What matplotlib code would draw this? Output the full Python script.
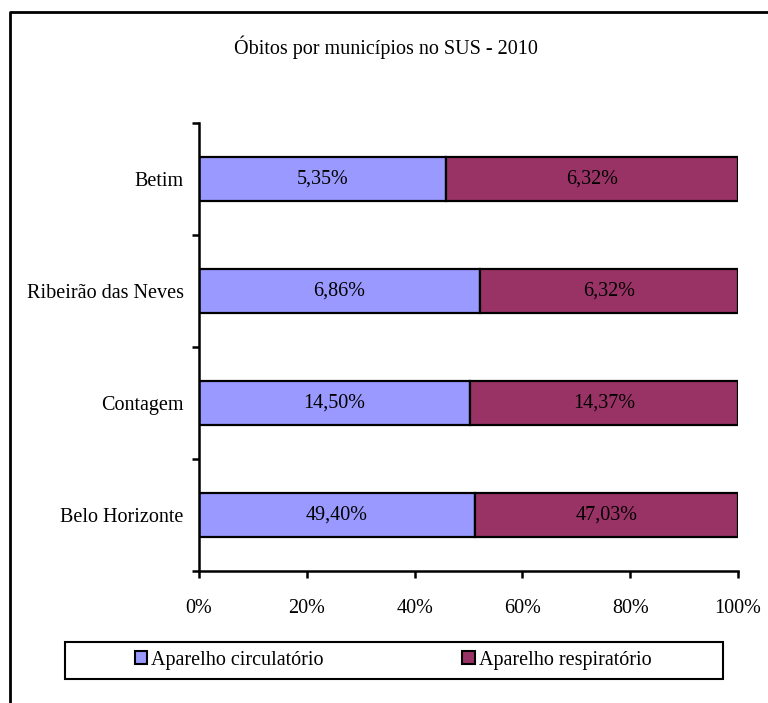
import matplotlib
matplotlib.use("Agg")
import matplotlib.pyplot as plt
from matplotlib.patches import Rectangle, Patch
from matplotlib.lines import Line2D
import numpy as np

# data (bottom -> top)
municipios = ["Belo Horizonte", "Contagem", "Ribeirão das Neves", "Betim"]
circulatorio = [49.40, 14.50, 6.86, 5.35]
respiratorio = [47.03, 14.37, 6.32, 6.32]
series_names = ["Aparelho circulatório", "Aparelho respiratório"]
x_ticks = [0, 0.2, 0.4, 0.6, 0.8, 1.0]
x_ticklabels = ["0%", "20%", "40%", "60%", "80%", "100%"]
titulo = "Óbitos por municípios no SUS - 2010"

FS = 14.5
plt.rcParams["font.family"] = ["Liberation Serif", "DejaVu Serif"]
plt.rcParams["font.size"] = FS

c_circ = "#9999FF"
c_resp = "#993366"

circ = np.array(circulatorio)
resp = np.array(respiratorio)
total = circ + resp
f_circ = circ / total
f_resp = resp / total
ypos = np.arange(len(municipios))

W, H = 768, 703
fig = plt.figure(figsize=(W / 100, H / 100), dpi=100)

ax = fig.add_axes([199 / W, 1 - 571 / H, 539 / W, 448 / H])
ax.barh(ypos, f_circ, height=0.4, color=c_circ, edgecolor="black", linewidth=1.6)
ax.barh(ypos, f_resp, left=f_circ, height=0.4, color=c_resp, edgecolor="black", linewidth=1.6)

for i in range(len(municipios)):
    ax.text(f_circ[i] / 2, ypos[i], f"{circulatorio[i]:.2f}%".replace(".", ","),
            ha="center", va="center", fontsize=FS)
    ax.text(f_circ[i] + f_resp[i] / 2, ypos[i], f"{respiratorio[i]:.2f}%".replace(".", ","),
            ha="center", va="center", fontsize=FS)

ax.set_xlim(0, 1)
ax.set_ylim(-0.5, len(municipios) - 0.5)
ax.set_xticks(x_ticks)
ax.set_xticklabels(x_ticklabels)
ax.set_yticks(np.arange(-0.5, len(municipios), 1.0))
ax.set_yticklabels([])
ax.set_yticks(ypos, minor=True)
ax.set_yticklabels(municipios, minor=True)
ax.tick_params(axis="y", which="minor", length=0, pad=11)
ax.tick_params(axis="y", which="major", length=5, width=1.8, direction="out")
ax.tick_params(axis="x", length=5, width=1.8, direction="out", pad=15)
for s in ["top", "right"]:
    ax.spines[s].set_visible(False)
for s in ["left", "bottom"]:
    ax.spines[s].set_linewidth(1.8)

fig.text(386 / W, 1 - 47 / H, titulo, ha="center", va="center", fontsize=FS)

# legend box
fig.add_artist(Rectangle((65 / W, 1 - 679 / H), (723 - 65) / W, 37 / H,
                         transform=fig.transFigure, fill=False, edgecolor="black", linewidth=1.5))
handles = [Patch(facecolor=c_circ, edgecolor="black", linewidth=1.5),
           Patch(facecolor=c_resp, edgecolor="black", linewidth=1.5)]
fig.legend(handles, series_names, loc="center", bbox_to_anchor=(393 / W, 1 - 660 / H),
           ncol=2, frameon=False, handlelength=0.6, handleheight=0.6,
           handletextpad=0.2, columnspacing=6.9, fontsize=FS)

# outer border (left and top visible)
fig.add_artist(Line2D([9.5 / W, 9.5 / W, 1.0], [0.0, 1 - 11.5 / H, 1 - 11.5 / H],
                      transform=fig.transFigure, color="black", linewidth=2.0))

fig.savefig("out.png", dpi=100)
